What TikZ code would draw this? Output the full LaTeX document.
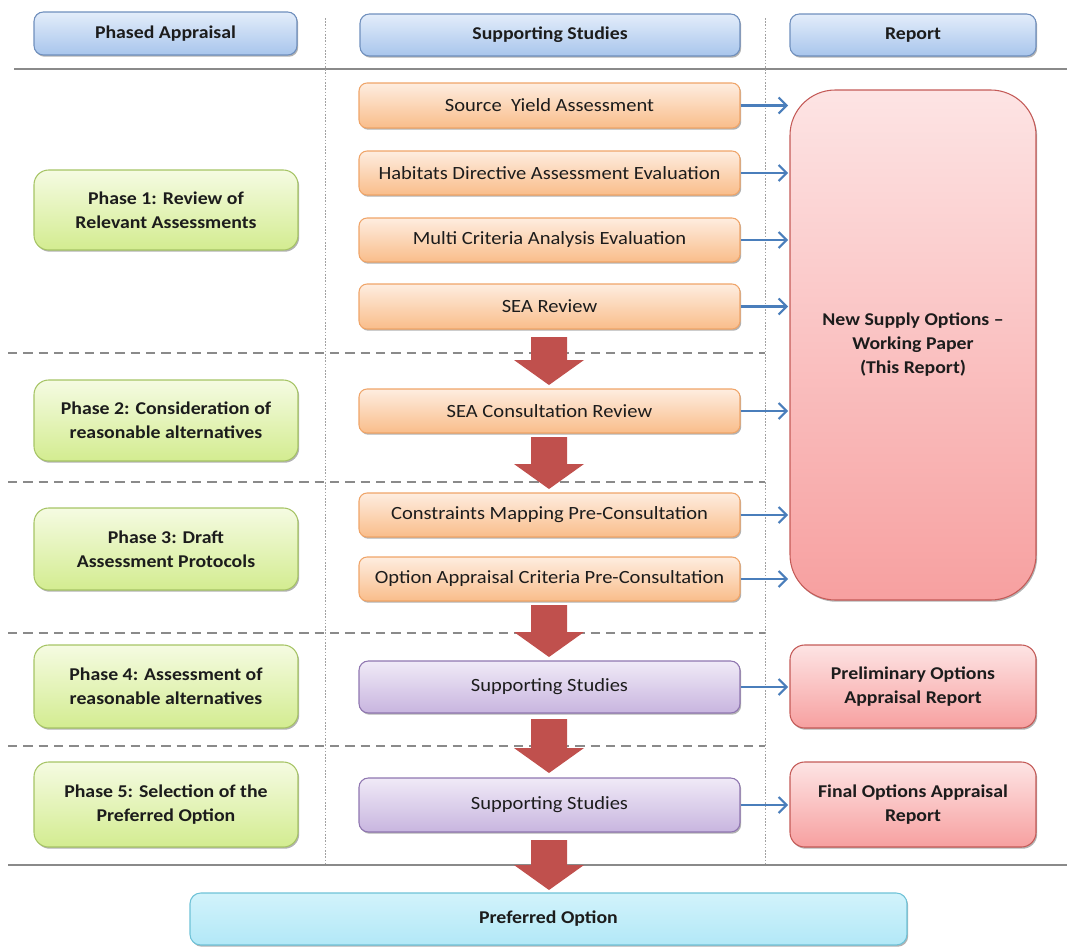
\documentclass[tikz,border=0pt]{standalone}
\usepackage{fontspec}
\setmainfont{Carlito}[FakeStretch=1.1]
\usetikzlibrary{arrows.meta,shadows,calc}
\definecolor{txt}{HTML}{1C1C1C}
\definecolor{hdrT}{HTML}{E3EDFA}\definecolor{hdrB}{HTML}{A8C5EC}\definecolor{hdrD}{HTML}{6F8FBD}
\definecolor{orT}{HTML}{FEEDE0}\definecolor{orB}{HTML}{F9BD8A}\definecolor{orD}{HTML}{EFA468}
\definecolor{grT}{HTML}{F5FBE2}\definecolor{grB}{HTML}{D3EC90}\definecolor{grD}{HTML}{A6C465}
\definecolor{puT}{HTML}{F0EAF7}\definecolor{puB}{HTML}{C8B5DF}\definecolor{puD}{HTML}{8F76B0}
\definecolor{rdT}{HTML}{FDE4E4}\definecolor{rdB}{HTML}{F7A0A0}\definecolor{rdD}{HTML}{C45A57}
\definecolor{cyT}{HTML}{D2F3FB}\definecolor{cyB}{HTML}{B2E8F7}\definecolor{cyD}{HTML}{6EC2D7}
\definecolor{bigred}{HTML}{C0504D}
\definecolor{blarr}{HTML}{4A7EBB}
\definecolor{lin}{HTML}{8A8A8A}
\newcommand\bx[7]{\node[#6, minimum width={(#4-#2)*0.75pt}, minimum height={(#5-#3)*0.75pt}] (#1) at ({(#2+#4)/2},{(#3+#5)/2}) {#7};}
\newcommand\barrow[2]{\fill[bigarr] (531,#1) -- (567,#1) -- (567,{#2-25}) -- (584,{#2-25}) -- (549,#2) -- (514,{#2-25}) -- (531,{#2-25}) -- cycle;}
\begin{document}
\begin{tikzpicture}[x=0.75pt,y=-0.75pt,
  basebox/.style={draw, line width=0.8pt, text=txt, align=center, inner sep=0pt,
    drop shadow={shadow xshift=0.9pt, shadow yshift=-1.3pt, opacity=0.3, fill=black}},
  hdr/.style={basebox, rounded corners=7pt, top color=hdrT, bottom color=hdrB, draw=hdrD, font=\fontsize{13.5}{17}\selectfont\bfseries},
  orb/.style={basebox, rounded corners=6pt, top color=orT, bottom color=orB, draw=orD, font=\fontsize{14}{17}\selectfont},
  pub/.style={basebox, rounded corners=7pt, top color=puT, bottom color=puB, draw=puD, font=\fontsize{14}{17}\selectfont},
  grb/.style={basebox, rounded corners=11pt, top color=grT, bottom color=grB, draw=grD, font=\fontsize{13.5}{18}\selectfont\bfseries},
  rdb/.style={basebox, rounded corners=11pt, top color=rdT, bottom color=rdB, draw=rdD, font=\fontsize{13.5}{18}\selectfont\bfseries},
  bigrd/.style={rdb, rounded corners=34pt},
  cyb/.style={basebox, rounded corners=8pt, top color=cyT, bottom color=cyB, draw=cyD, font=\fontsize{13.5}{17}\selectfont\bfseries},
  solidl/.style={draw=lin, line width=1.1pt},
  dashl/.style={draw=lin, line width=0.8pt, dash pattern=on 7pt off 4.5pt},
  dotl/.style={draw=lin!80, line width=0.6pt, dash pattern=on 1.2pt off 1.2pt},
  barr/.style={draw=blarr, line width=1.6pt, -{Straight Barb[length=6pt,width=12pt,line width=1.6pt]}, shorten >=1pt},
  bigarr/.style={fill=bigred}
]
\useasboundingbox (0,0) rectangle (1067,946);
% grid lines
\draw[solidl] (14,69) -- (1067,69);
\draw[solidl] (8,865) -- (1067,865);
\foreach \yy in {353,482,633,746} \draw[dashl] (8,\yy) -- (765,\yy);
\draw[dotl] (325,18) -- (325,865);
\draw[dotl] (765,18) -- (765,865);
% headers
\bx{h1}{34}{12}{297}{55}{hdr}{Phased Appraisal}
\bx{h2}{360}{14}{740}{56}{hdr}{Supporting Studies}
\bx{h3}{790}{14}{1036}{56}{hdr}{Report}
% supporting studies
\bx{s1}{359}{83}{740}{128}{orb}{Source~~Yield Assessment}
\bx{s2}{359}{151}{740}{195}{orb}{Habitats Directive Assessment Evaluation}
\bx{s3}{359}{218}{740}{262}{orb}{Multi Criteria Analysis Evaluation}
\bx{s4}{359}{284}{740}{329}{orb}{SEA Review}
\bx{s5}{359}{389}{740}{433}{orb}{SEA Consultation Review}
\bx{s6}{359}{493}{740}{537}{orb}{Constraints Mapping Pre-Consultation}
\bx{s7}{359}{557}{740}{601}{orb}{Option Appraisal Criteria Pre-Consultation}
\bx{p1}{359}{661}{740}{713}{pub}{Supporting Studies}
\bx{p2}{359}{778}{740}{832}{pub}{Supporting Studies}
% phases
\bx{g1}{34}{170}{298}{250}{grb}{Phase 1: Review of\\Relevant Assessments}
\bx{g2}{34}{380}{298}{461}{grb}{Phase 2: Consideration of\\reasonable alternatives}
\bx{g3}{34}{508}{298}{590}{grb}{Phase 3: Draft\\Assessment Protocols}
\bx{g4}{34}{645}{298}{728}{grb}{Phase 4: Assessment of\\reasonable alternatives}
\bx{g5}{34}{762}{298}{847}{grb}{Phase 5: Selection of the\\Preferred Option}
% reports
\bx{rep}{790}{90}{1036}{600}{bigrd}{New Supply Options --\\Working Paper\\(This Report)}
\bx{r2}{790}{645}{1036}{728}{rdb}{Preliminary Options\\Appraisal Report}
\bx{r3}{790}{762}{1036}{847}{rdb}{Final Options Appraisal\\Report}
\bx{pref}{190}{893}{907}{945}{cyb}{Preferred Option}
% big arrows
\barrow{337}{385}
\barrow{437}{489}
\barrow{605}{657}
\barrow{719}{773}
\barrow{840}{890}
% blue arrows
\foreach \s in {s1,s2,s3,s4,s5,s6,s7} \draw[barr] (\s.east) -- (\s.east -| rep.west);
\draw[barr] (p1.east) -- (p1.east -| r2.west);
\draw[barr] (p2.east) -- (p2.east -| r3.west);
\end{tikzpicture}
\end{document}
